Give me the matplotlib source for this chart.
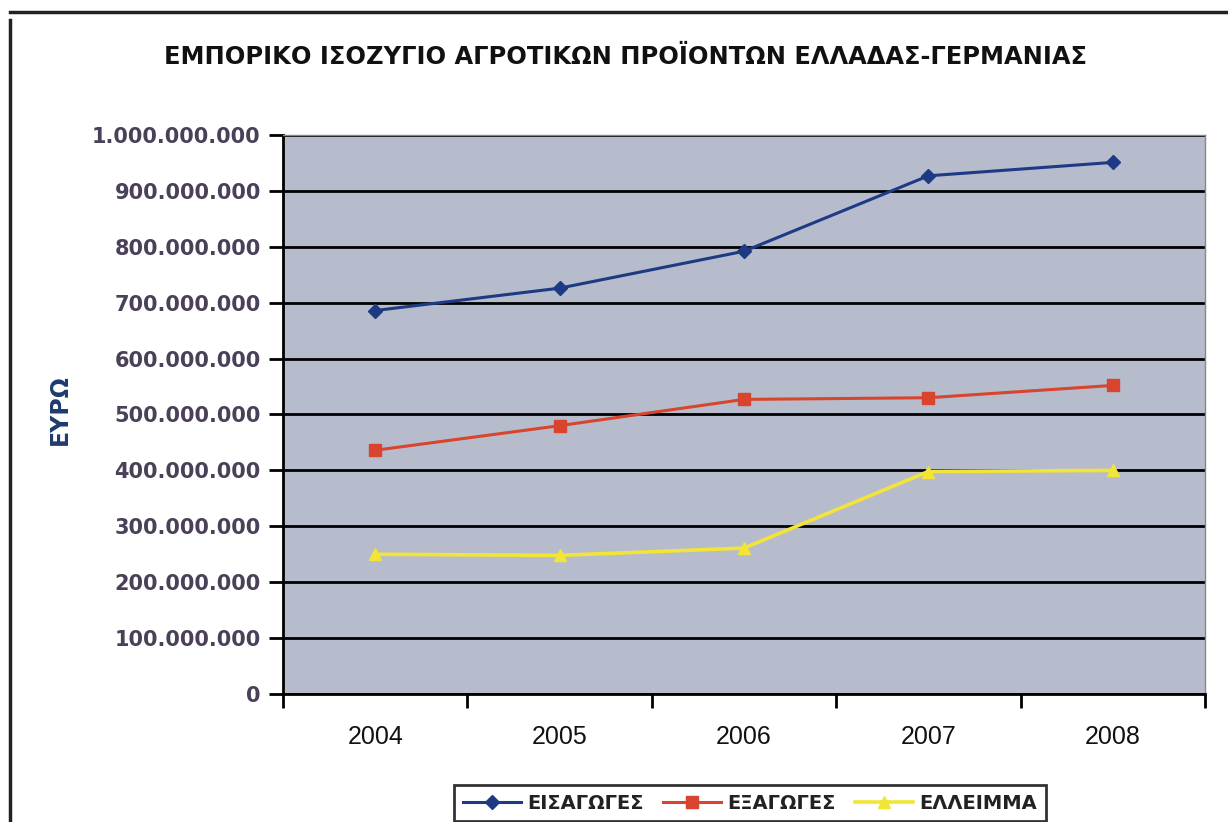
import matplotlib
matplotlib.use("Agg")
import matplotlib.pyplot as plt
from matplotlib.ticker import FuncFormatter, FixedLocator

years = ["2004", "2005", "2006", "2007", "2008"]
imports = [686e6, 726e6, 792e6, 927e6, 951e6]
exports = [436e6, 480e6, 527e6, 530e6, 552e6]
deficit = [250e6, 248e6, 261e6, 398e6, 400e6]
series_names = ["ΕΙΣΑΓΩΓΕΣ", "ΕΞΑΓΩΓΕΣ", "ΕΛΛΕΙΜΜΑ"]
title = "ΕΜΠΟΡΙΚΟ ΙΣΟΖΥΓΙΟ ΑΓΡΟΤΙΚΩΝ ΠΡΟΪΟΝΤΩΝ ΕΛΛΑΔΑΣ-ΓΕΡΜΑΝΙΑΣ"
ylabel = "ΕΥΡΩ"

fig = plt.figure(figsize=(12.28, 8.22), dpi=100)
ax = fig.add_axes([283/1228, 1-694/822, (1205-283)/1228, (694-135)/822])
ax.set_facecolor("#b6bccc")

x = list(range(len(years)))
ax.plot(x, imports, color="#1f3a84", lw=2.2, marker="D", ms=7, label=series_names[0], zorder=3)
ax.plot(x, exports, color="#d9442e", lw=2.2, marker="s", ms=8, label=series_names[1], zorder=3)
ax.plot(x, deficit, color="#f2e536", lw=2.6, marker="^", ms=9, label=series_names[2], zorder=3)

ax.set_xlim(-0.5, 4.5)
ax.set_ylim(0, 1e9)
ax.yaxis.set_major_locator(FixedLocator([i*1e8 for i in range(11)]))
ax.yaxis.set_major_formatter(FuncFormatter(lambda v, p: f"{int(v):,}".replace(",", ".")))
ax.grid(axis="y", color="black", lw=2)
ax.set_axisbelow(True)

ax.set_xticks(x)
ax.set_xticklabels(years, fontfamily="Liberation Sans", fontsize=18, color="#111111")
ax.tick_params(axis="x", which="major", length=0, pad=22)
ax.set_xticks([i - 0.5 for i in range(len(years)+1)], minor=True)
ax.tick_params(axis="x", which="minor", length=10, width=2, color="black", direction="out")
ax.tick_params(axis="y", length=10, width=2, color="black", direction="out", pad=6,
               labelsize=15, labelcolor="#4a4058")
for lab in ax.get_yticklabels():
    lab.set_fontweight("bold")

for s in ["top", "right"]:
    ax.spines[s].set_color("#888888")
    ax.spines[s].set_linewidth(1)
for s in ["left", "bottom"]:
    ax.spines[s].set_color("black")
    ax.spines[s].set_linewidth(2)

fig.text(60/1228, 1-410/822, ylabel, rotation=90, ha="center", va="center",
         fontsize=17, fontweight="bold", color="#1f3a6e")
fig.text(625/1228, 1-57/822, title, ha="center", va="center",
         fontsize=17.4, fontweight="bold", color="#111111")

leg = fig.legend(loc="center", bbox_to_anchor=(750/1228, 1-803/822), ncol=3,
                 frameon=True, fancybox=False, edgecolor="black", fontsize=14,
                 handlelength=3, columnspacing=1.0, handletextpad=0.3, borderpad=0.45)
leg.get_frame().set_linewidth(2)
for t in leg.get_texts():
    t.set_fontweight("bold")
    t.set_color("#222222")

fig.add_artist(plt.Line2D([10/1228, 10/1228], [0, 1-20/822], color="#222222", lw=2.5, transform=fig.transFigure))
fig.add_artist(plt.Line2D([10/1228, 1], [1-12/822, 1-12/822], color="#222222", lw=2.5, transform=fig.transFigure))

fig.savefig("out.png", dpi=100, facecolor="white")
